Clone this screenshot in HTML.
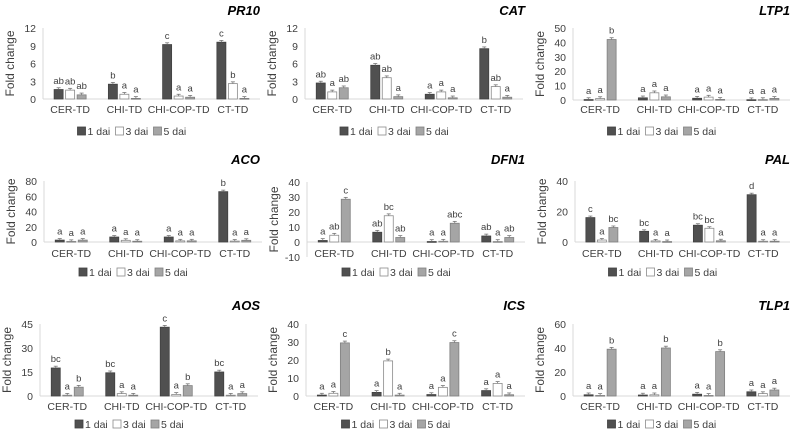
<!DOCTYPE html>
<html><head><meta charset="utf-8"><style>
body{margin:0;background:#fff;}
svg text{font-family:"Liberation Sans",sans-serif;}
</style></head><body>
<svg id="c" width="798" height="438" xmlns="http://www.w3.org/2000/svg"></svg>
<script>
const categories=["CER-TD","CHI-TD","CHI-COP-TD","CT-TD"];
const seriesNames=["1 dai","3 dai","5 dai"];
const pr10_1=[1.6,2.5,9.2,9.6], pr10_3=[1.5,0.8,0.5,2.6], pr10_5=[0.7,0.1,0.3,0.1];
const pr10_lbl=[["ab","b","c","c"],["ab","a","a","b"],["ab","a","a","a"]];
const cat_1=[2.7,5.7,0.8,8.5], cat_3=[1.2,3.6,1.2,2.1], cat_5=[1.9,0.4,0.2,0.3];
const cat_lbl=[["ab","ab","a","b"],["a","ab","a","ab"],["ab","a","a","a"]];
const ltp1_1=[0.3,1.5,1.2,0.2], ltp1_3=[1,5,2,0.3], ltp1_5=[42,2.2,0.4,1.1];
const ltp1_lbl=[["a","a","a","a"],["a","a","a","a"],["b","a","a","a"]];
const aco_1=[2.5,6.5,6.5,66], aco_3=[0.8,2.2,1.5,1.2], aco_5=[2.5,1,1.5,2.2];
const aco_lbl=[["a","a","a","b"],["a","a","a","a"],["a","a","a","a"]];
const dfn1_1=[1,6.5,0.3,4], dfn1_3=[4.5,17.5,0.5,0.3], dfn1_5=[28.5,3,12.5,3];
const dfn1_lbl=[["a","ab","a","ab"],["ab","bc","a","a"],["c","ab","abc","ab"]];
const pal_1=[16,7,11,31], pal_3=[1.3,0.7,9,0.5], pal_5=[9.5,0.3,0.8,0.5];
const pal_lbl=[["c","bc","bc","d"],["a","a","bc","a"],["bc","a","a","a"]];
const aos_1=[17.5,14.5,43,15], aos_3=[0.5,1.5,1,0.5], aos_5=[5.5,0.5,6.5,1.5];
const aos_lbl=[["bc","bc","c","bc"],["a","a","a","a"],["b","a","b","a"]];
const ics_1=[0.5,2,0.8,3], ics_3=[1.5,19.5,4.8,7], ics_5=[29.5,0.5,29.7,0.7];
const ics_lbl=[["a","a","a","a"],["a","b","a","a"],["c","a","c","a"]];
const tlp1_1=[1,0.8,1.5,3.5], tlp1_3=[0.5,1,0.5,2], tlp1_5=[39,40,37,5];
const tlp1_lbl=[["a","a","a","a"],["a","a","a","a"],["b","b","b","a"]];
const ticks12=[0,3,6,9,12], ticks50=[0,10,20,30,40,50], ticks80=[0,20,40,60,80],
 ticksD=[-10,0,10,20,30,40], ticks40a=[0,20,40], ticks45=[0,15,30,45], ticks40=[0,10,20,30,40], ticks60=[0,20,40,60];

const panels=[
 {t:"PR10",s:[pr10_1,pr10_3,pr10_5],lb:pr10_lbl,tk:ticks12,L:43,T:28,B:99,R:260,cy:113,ly:135,ty:15,ox:0},
 {t:"CAT",s:[cat_1,cat_3,cat_5],lb:cat_lbl,tk:ticks12,L:305,T:28,B:99,R:523,cy:113,ly:135,ty:15,ox:265},
 {t:"LTP1",s:[ltp1_1,ltp1_3,ltp1_5],lb:ltp1_lbl,tk:ticks50,L:573,T:28,B:100,R:790,cy:113,ly:135,ty:15,ox:530},
 {t:"ACO",s:[aco_1,aco_3,aco_5],lb:aco_lbl,tk:ticks80,L:44,T:181,B:242,R:262,cy:257,ly:276,ty:164,ox:0},
 {t:"DFN1",s:[dfn1_1,dfn1_3,dfn1_5],lb:dfn1_lbl,tk:ticksD,L:307,T:182,B:257,R:525,cy:257,ly:276,ty:164,ox:265},
 {t:"PAL",s:[pal_1,pal_3,pal_5],lb:pal_lbl,tk:ticks40a,L:575,T:181,B:242,R:790,cy:257,ly:276,ty:164,ox:530},
 {t:"AOS",s:[aos_1,aos_3,aos_5],lb:aos_lbl,tk:ticks45,L:40,T:324,B:396,R:258,cy:410,ly:428,ty:310,ox:0},
 {t:"ICS",s:[ics_1,ics_3,ics_5],lb:ics_lbl,tk:ticks40,L:306,T:324,B:396,R:525,cy:410,ly:428,ty:310,ox:265},
 {t:"TLP1",s:[tlp1_1,tlp1_3,tlp1_5],lb:tlp1_lbl,tk:ticks60,L:573,T:324,B:396,R:790,cy:410,ly:428,ty:310,ox:530}
];
const fills=["#505050","#ffffff","#a5a5a5"], strokes=["#404040","#8a8a8a","#808080"];
const NS="http://www.w3.org/2000/svg", svg=document.getElementById("c");
function el(tag,attrs,parent,txt){const e=document.createElementNS(NS,tag);for(const k in attrs)e.setAttribute(k,attrs[k]);if(txt!==undefined)e.textContent=txt;(parent||svg).appendChild(e);return e;}
panels.forEach(p=>{
 const g=el("g",{});
 
 
 const mn=p.tk[0], mx=p.tk[p.tk.length-1];
 const y=v=>p.B-(v-mn)/(mx-mn)*(p.B-p.T);
 const band=(p.R-p.L)/4;
 const x=i=>p.L+band*(i+0.5);
 el("line",{x1:p.L,y1:p.T,x2:p.L,y2:p.B,stroke:"#d9d9d9"},g);
 el("line",{x1:p.L,y1:y(0),x2:p.R,y2:y(0),stroke:"#d9d9d9"},g);
 p.tk.forEach(t=>{const tt=el("text",{x:p.L-7,y:y(t)+4,"text-anchor":"end","font-size":"10.5",fill:"#404040"},g,String(t));
  });
 const yt=el("text",{x:0,y:0,transform:`translate(${p.L-29},${(p.T+p.B)/2}) rotate(-90)`,"text-anchor":"middle","font-size":"12",fill:"#404040"},g,"Fold change");
 
 const ti=el("text",{x:p.ox+260,y:p.ty,"text-anchor":"end","font-size":"13","font-weight":"bold","font-style":"italic",fill:"#000"},g,p.t);
 
 categories.forEach((c,i)=>{const ct=el("text",{x:x(i),y:p.cy,"text-anchor":"middle","font-size":"10.5",fill:"#404040"},g,c);
  });
 p.s.forEach((arr,si)=>{arr.forEach((v,i)=>{
  const cx=x(i)+(si-1)*11.5, y0=y(0), yv=y(v);
  const r=el("rect",{x:cx-4.5,y:Math.min(y0,yv),width:9,height:Math.max(0.8,Math.abs(y0-yv)),fill:fills[si],stroke:strokes[si],"stroke-width":"0.8"},g);
  
  
  const e=(mx-mn)*0.025;
  el("line",{x1:cx,y1:yv,x2:cx,y2:y(v+e),stroke:"#777","stroke-width":"0.8"},g);
  el("line",{x1:cx-2,y1:y(v+e),x2:cx+2,y2:y(v+e),stroke:"#777","stroke-width":"0.8"},g);
  const lt=el("text",{x:cx,y:y(v+e)-4,"text-anchor":"middle","font-size":"9.5",fill:"#404040"},g,p.lb[si][i]);
  
 });});
 const lx=(p.L+p.R)/2-20-54;
 seriesNames.forEach((n,si)=>{const bx=lx+si*38;
  const sw=el("rect",{x:bx,y:p.ly-8,width:8,height:8,fill:fills[si],stroke:strokes[si],"stroke-width":"0.8"},g);
  
  const lt=el("text",{x:bx+10,y:p.ly,"font-size":"10.5",fill:"#404040"},g,n);
  });
});
</script>
</body></html>
